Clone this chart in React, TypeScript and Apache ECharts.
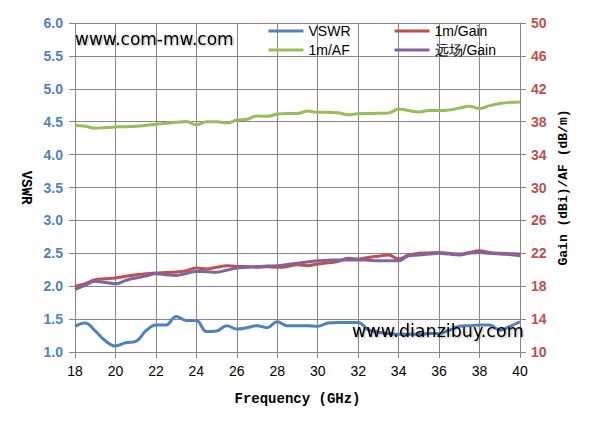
import React, { useEffect, useRef } from "react";
import * as echarts from "echarts";

const freqs = [
  18, 18.5, 19, 19.5, 20, 20.5, 21, 21.5, 22, 22.5, 23, 23.5, 24, 24.5, 25, 25.5,
  26, 26.5, 27, 27.5, 28, 28.5, 29, 29.5, 30, 30.5, 31, 31.5, 32, 32.5, 33, 33.5,
  34, 34.5, 35, 35.5, 36, 36.5, 37, 37.5, 38, 38.5, 39, 39.5, 40,
];

const vswr = [
  1.39, 1.44, 1.32, 1.17, 1.09, 1.14, 1.16, 1.32, 1.41, 1.41, 1.54, 1.48, 1.48, 1.31, 1.32, 1.4,
  1.35, 1.37, 1.4, 1.37, 1.46, 1.4, 1.4, 1.4, 1.39, 1.44, 1.45, 1.45, 1.45, 1.34, 1.3, 1.28,
  1.27, 1.27, 1.27, 1.28, 1.28, 1.33, 1.39, 1.4, 1.41, 1.41, 1.33, 1.39, 1.46,
];

const gain1m = [
  18.0, 18.3, 18.8, 18.9, 19.0, 19.2, 19.4, 19.5, 19.6, 19.68, 19.72, 19.88, 20.2, 20.1, 20.3, 20.5,
  20.4, 20.4, 20.3, 20.35, 20.3, 20.4, 20.6, 20.5, 20.7, 20.85, 21.0, 21.4, 21.3, 21.5, 21.65, 21.8,
  21.3, 21.8, 22.0, 22.05, 22.1, 22.0, 21.9, 22.1, 22.3, 22.1, 22.0, 21.95, 21.9,
];

const af1m = [
  37.55, 37.45, 37.2, 37.3, 37.35, 37.4, 37.45, 37.55, 37.68, 37.8, 37.92, 38.02, 37.6, 38.0, 38.0, 37.85,
  38.2, 38.3, 38.7, 38.65, 38.93, 39.0, 39.0, 39.3, 39.14, 39.14, 39.1, 38.85, 38.98, 39.0, 39.02, 39.06,
  39.55, 39.35, 39.18, 39.36, 39.36, 39.43, 39.65, 39.87, 39.6, 39.95, 40.2, 40.35, 40.4,
];

const gainFar = [
  17.6, 18.1, 18.6, 18.45, 18.3, 18.7, 19.0, 19.25, 19.5, 19.4, 19.3, 19.55, 19.8, 19.75, 19.7, 19.95,
  20.2, 20.3, 20.4, 20.45, 20.5, 20.65, 20.8, 20.95, 21.1, 21.15, 21.2, 21.2, 21.2, 21.15, 21.1, 21.1,
  21.1, 21.7, 21.8, 21.9, 22.0, 21.9, 21.8, 22.0, 22.1, 22.0, 21.9, 21.85, 21.7,
];

const xTicks = [18, 20, 22, 24, 26, 28, 30, 32, 34, 36, 38, 40];
const leftTicks = [1.0, 1.5, 2.0, 2.5, 3.0, 3.5, 4.0, 4.5, 5.0, 5.5, 6.0];
const rightTicks = [10, 14, 18, 22, 26, 30, 34, 38, 42, 46, 50];

const pairs = (ys: number[]) => freqs.map((f, i) => [f, ys[i]]);

const GRID = "#868686";
const BLUE = "#4F81BD";
const RED = "#C0504D";
const GREEN = "#9BBB59";
const PURPLE = "#8064A2";

export default function App() {
  const ref = useRef<HTMLDivElement>(null);
  useEffect(() => {
    if (!ref.current) return;
    const chart = echarts.init(ref.current, null, { renderer: "svg" });
    const legendText = {
      color: "#000",
      fontFamily: "Liberation Sans",
      fontSize: 14,
      lineHeight: 14,
    };
    const legendBase = {
      orient: "vertical",
      top: 19,
      padding: 5,
      itemWidth: 35,
      itemHeight: 14,
      itemGap: 5,
      textStyle: legendText,
      itemStyle: { opacity: 0 },
      lineStyle: { width: 3 },
    };
    chart.setOption({
      animation: false,
      backgroundColor: "#fff",
      grid: { left: 75, right: 73, top: 23, bottom: 89, containLabel: false },
      legend: [
        { ...legendBase, data: ["VSWR", "1m/AF"], left: 262 },
        { ...legendBase, data: ["1m/Gain", "远场/Gain"], left: 388 },
      ],
      xAxis: {
        type: "value",
        min: 18,
        max: 40,
        interval: 2,
        name: "Frequency (GHz)",
        nameLocation: "middle",
        nameGap: 40,
        nameTextStyle: {
          fontFamily: "Liberation Mono",
          fontWeight: "bold",
          fontSize: 14,
          color: "#000",
        },
        axisLine: { show: true, lineStyle: { color: GRID, width: 1 } },
        axisTick: { show: true, length: 6, lineStyle: { color: GRID }, customValues: xTicks },
        axisLabel: {
          margin: 12,
          color: "#000",
          fontFamily: "Liberation Sans",
          fontSize: 14,
          customValues: xTicks,
        },
        splitLine: { show: true, lineStyle: { color: GRID, width: 1 } },
      },
      yAxis: [
        {
          type: "value",
          min: 1,
          max: 6,
          interval: 0.5,
          position: "left",
          name: "VSWR",
          nameLocation: "middle",
          nameRotate: -90,
          nameGap: 41,
          nameTextStyle: {
            fontFamily: "Liberation Mono",
            fontWeight: "bold",
            fontSize: 14,
            color: "#000",
          },
          axisLine: { show: true, lineStyle: { color: GRID, width: 1 } },
          axisTick: { show: true, length: 6, lineStyle: { color: GRID }, customValues: leftTicks },
          axisLabel: {
            margin: 12,
            color: BLUE,
            fontWeight: "bold",
            fontFamily: "Liberation Sans",
            fontSize: 14,
            customValues: leftTicks,
            formatter: (v: number) => v.toFixed(1),
          },
          splitLine: { show: true, lineStyle: { color: GRID, width: 1 } },
        },
        {
          type: "value",
          min: 10,
          max: 50,
          position: "right",
          name: "Gain (dBi)/AF (dB/m)",
          nameLocation: "middle",
          nameRotate: 90,
          nameGap: 37,
          nameTextStyle: {
            fontFamily: "Liberation Mono",
            fontWeight: "bold",
            fontSize: 13,
            color: "#000",
          },
          axisLine: { show: true, lineStyle: { color: GRID, width: 1 } },
          axisTick: { show: true, length: 6, lineStyle: { color: GRID }, customValues: rightTicks },
          axisLabel: {
            margin: 11,
            color: RED,
            fontWeight: "bold",
            fontFamily: "Liberation Sans",
            fontSize: 14,
            customValues: rightTicks,
          },
          splitLine: { show: false },
        },
      ],
      graphic: [
        {
          type: "text",
          left: 75,
          top: 30,
          style: {
            text: "www.com-mw.com",
            fontFamily: "DejaVu Sans",
            fontSize: 17,
            fill: "#000",
            textShadowColor: "rgba(0,0,0,0.35)",
            textShadowBlur: 2,
            textShadowOffsetX: 1,
            textShadowOffsetY: 1,
          },
          z: 100,
        },
        {
          type: "text",
          left: 352,
          top: 322,
          style: {
            text: "www.dianzibuy.com",
            fontFamily: "DejaVu Sans",
            fontSize: 17.5,
            fill: "#000",
            textShadowColor: "rgba(0,0,0,0.35)",
            textShadowBlur: 2,
            textShadowOffsetX: 1,
            textShadowOffsetY: 1,
          },
          z: 100,
        },
      ],
      series: [
        {
          name: "VSWR",
          type: "line",
          yAxisIndex: 0,
          data: pairs(vswr),
          symbol: "none",
          smooth: 0.4,
          lineStyle: { color: BLUE, width: 3 },
          itemStyle: { color: BLUE },
        },
        {
          name: "1m/Gain",
          type: "line",
          yAxisIndex: 1,
          data: pairs(gain1m),
          symbol: "none",
          smooth: 0.4,
          lineStyle: { color: RED, width: 3 },
          itemStyle: { color: RED },
        },
        {
          name: "1m/AF",
          type: "line",
          yAxisIndex: 1,
          data: pairs(af1m),
          symbol: "none",
          smooth: 0.4,
          lineStyle: { color: GREEN, width: 3 },
          itemStyle: { color: GREEN },
        },
        {
          name: "远场/Gain",
          type: "line",
          yAxisIndex: 1,
          data: pairs(gainFar),
          symbol: "none",
          smooth: 0.4,
          lineStyle: { color: PURPLE, width: 3 },
          itemStyle: { color: PURPLE },
        },
      ],
    });
    return () => chart.dispose();
  }, []);
  return (
    <div
      ref={ref}
      style={{ position: "fixed", left: 0, top: 0, width: 593, height: 441 }}
    />
  );
}
